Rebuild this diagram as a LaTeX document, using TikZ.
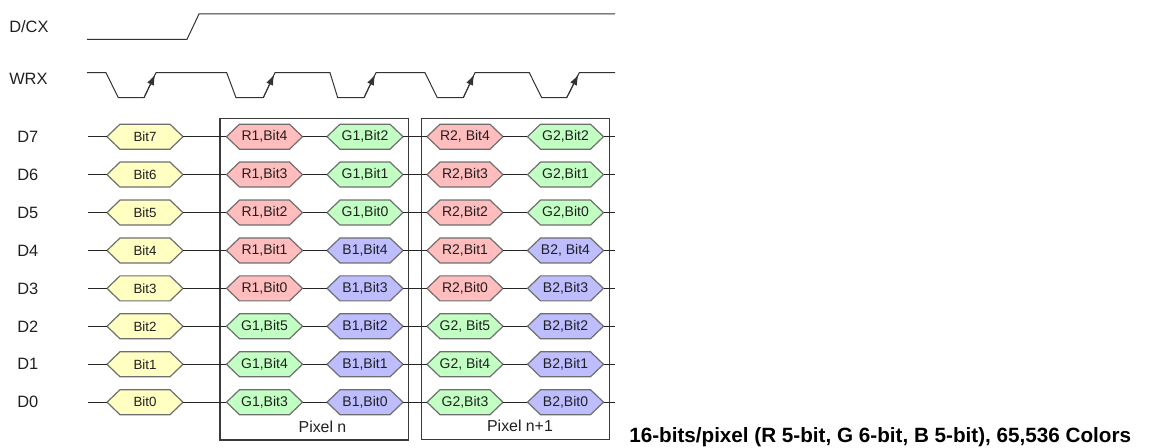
\documentclass[tikz,border=0pt]{standalone}
\usepackage{fontspec}
\setmainfont{Liberation Sans}
\usetikzlibrary{arrows.meta,calc}
\definecolor{hy}{HTML}{FFFFC2}
\definecolor{hr}{HTML}{FFBDBD}
\definecolor{hg}{HTML}{C2FFC2}
\definecolor{hb}{HTML}{BDBDFF}
\definecolor{hexgray}{HTML}{6E6E6E}
\definecolor{boxgray}{HTML}{3A3A3A}
\definecolor{txt}{HTML}{202020}
\tikzset{
  hexline/.style={draw=hexgray, line width=0.9pt, line join=miter},
  hexlabel/.style={minimum width=57pt, minimum height=18.75pt, inner sep=0pt, text=txt, font=\fontsize{10.5}{12}\selectfont},
  ylabel/.style={hexlabel, font=\fontsize{10}{11}\selectfont},
  wire/.style={draw=black!85, line width=0.75pt},
  wave/.style={draw=black!80, line width=0.75pt},
  edgearrow/.style={draw=black!80, line width=0.75pt, -{Latex[length=8pt,width=5.5pt]}},
  boxline/.style={draw=boxgray, line width=0.8pt},
  siglabel/.style={anchor=west, inner sep=0pt, text=txt, font=\fontsize{12.3}{14}\selectfont},
  pixlabel/.style={inner sep=0pt, text=txt, font=\fontsize{11.9}{14}\selectfont},
  caption/.style={anchor=base west, inner sep=0pt, font=\fontsize{15.5}{18}\selectfont\bfseries},
}
\newcommand\hexn[6][hexlabel]{%
  \path[hexline, fill=#5] (#3-38,#4) -- (#3-25,#4-12.5) -- (#3+25,#4-12.5) -- (#3+38,#4) -- (#3+25,#4+12.5) -- (#3-25,#4+12.5) -- cycle;
  \node[#1] (#2) at (#3,#4) {#6};}
\newcommand\rowwires[2]{%
  \coordinate (s#1) at (88,#2);
  \coordinate (e#1) at (615,#2);
  \draw[wire] (s#1) -- (y#1.west);
  \draw[wire] (y#1.east) -- (a#1.west);
  \draw[wire] (a#1.east) -- (b#1.west);
  \draw[wire] (b#1.east) -- (c#1.west);
  \draw[wire] (c#1.east) -- (d#1.west);
  \draw[wire] (d#1.east) -- (e#1);}
\begin{document}
\begin{tikzpicture}[x=0.75pt,y=-0.75pt]
\useasboundingbox (0,0) rectangle (1150,448);
% signal labels
\node[siglabel] (ldcx) at (9,27) {D/CX};
\node[siglabel] (lwrx) at (9,79) {WRX};
% D/CX waveform
\draw[wave] (87,39.3) -- (187,39.3) -- (199,14) -- (615,14);
% WRX waveform
\draw[wave] (87,72.7) -- (106,72.7) -- (118.3,97.7) -- (144,97.7) -- (156,72.7)
  -- (226.7,72.7) -- (236,97.7) -- (263.3,97.7) -- (275,72.7)
  -- (330,72.7) -- (337.7,97.7) -- (364,97.7) -- (376,72.7)
  -- (425,72.7) -- (437.3,97.7) -- (463.3,97.7) -- (475,72.7)
  -- (529.3,72.7) -- (541.7,97.7) -- (566.7,97.7) -- (579.3,72.7) -- (615,72.7);
\foreach \a/\b in {144/156, 263.3/275, 364/376, 463.3/475, 566.7/579.3}
  \draw[edgearrow] (\a,97.7) -- ($(\a,97.7)!0.93!(\b,72.7)$);
% pixel boxes
\draw[boxline] (220,118.3) rectangle (408.3,440);
\draw[boxline] (421.7,118.3) rectangle (609.3,439.5);
\node[pixlabel] (pn) at (322.5,426.7) {Pixel n};
\node[pixlabel] (pn1) at (520,425.5) {Pixel n+1};
% row labels
\node[siglabel] (l7) at (17,136.7) {D7};
\node[siglabel] (l6) at (17,174.6) {D6};
\node[siglabel] (l5) at (17,212.6) {D5};
\node[siglabel] (l4) at (17,250.5) {D4};
\node[siglabel] (l3) at (17,288.4) {D3};
\node[siglabel] (l2) at (17,326.3) {D2};
\node[siglabel] (l1) at (17,364.3) {D1};
\node[siglabel] (l0) at (17,402.2) {D0};
% D7
\hexn[ylabel]{y7}{145}{136.7}{hy}{Bit7}
\hexn{a7}{264.5}{136.7}{hr}{R1,Bit4}
\hexn{b7}{365}{136.7}{hg}{G1,Bit2}
\hexn{c7}{465}{136.7}{hr}{R2, Bit4}
\hexn{d7}{565.5}{136.7}{hg}{G2,Bit2}
\rowwires{7}{136.7}
% D6
\hexn[ylabel]{y6}{145}{174.6}{hy}{Bit6}
\hexn{a6}{264.5}{174.6}{hr}{R1,Bit3}
\hexn{b6}{365}{174.6}{hg}{G1,Bit1}
\hexn{c6}{465}{174.6}{hr}{R2,Bit3}
\hexn{d6}{565.5}{174.6}{hg}{G2,Bit1}
\rowwires{6}{174.6}
% D5
\hexn[ylabel]{y5}{145}{212.6}{hy}{Bit5}
\hexn{a5}{264.5}{212.6}{hr}{R1,Bit2}
\hexn{b5}{365}{212.6}{hg}{G1,Bit0}
\hexn{c5}{465}{212.6}{hr}{R2,Bit2}
\hexn{d5}{565.5}{212.6}{hg}{G2,Bit0}
\rowwires{5}{212.6}
% D4
\hexn[ylabel]{y4}{145}{250.5}{hy}{Bit4}
\hexn{a4}{264.5}{250.5}{hr}{R1,Bit1}
\hexn{b4}{365}{250.5}{hb}{B1,Bit4}
\hexn{c4}{465}{250.5}{hr}{R2,Bit1}
\hexn{d4}{565.5}{250.5}{hb}{B2, Bit4}
\rowwires{4}{250.5}
% D3
\hexn[ylabel]{y3}{145}{288.4}{hy}{Bit3}
\hexn{a3}{264.5}{288.4}{hr}{R1,Bit0}
\hexn{b3}{365}{288.4}{hb}{B1,Bit3}
\hexn{c3}{465}{288.4}{hr}{R2,Bit0}
\hexn{d3}{565.5}{288.4}{hb}{B2,Bit3}
\rowwires{3}{288.4}
% D2
\hexn[ylabel]{y2}{145}{326.3}{hy}{Bit2}
\hexn{a2}{264.5}{326.3}{hg}{G1,Bit5}
\hexn{b2}{365}{326.3}{hb}{B1,Bit2}
\hexn{c2}{465}{326.3}{hg}{G2, Bit5}
\hexn{d2}{565.5}{326.3}{hb}{B2,Bit2}
\rowwires{2}{326.3}
% D1
\hexn[ylabel]{y1}{145}{364.3}{hy}{Bit1}
\hexn{a1}{264.5}{364.3}{hg}{G1,Bit4}
\hexn{b1}{365}{364.3}{hb}{B1,Bit1}
\hexn{c1}{465}{364.3}{hg}{G2, Bit4}
\hexn{d1}{565.5}{364.3}{hb}{B2,Bit1}
\rowwires{1}{364.3}
% D0
\hexn[ylabel]{y0}{145}{402.2}{hy}{Bit0}
\hexn{a0}{264.5}{402.2}{hg}{G1,Bit3}
\hexn{b0}{365}{402.2}{hb}{B1,Bit0}
\hexn{c0}{465}{402.2}{hg}{G2,Bit3}
\hexn{d0}{565.5}{402.2}{hb}{B2,Bit0}
\rowwires{0}{402.2}
% caption
\node[caption] (cap) at (629,442.7) {16-bits/pixel (R 5-bit, G 6-bit, B 5-bit), 65,536 Colors};
\end{tikzpicture}
\end{document}
